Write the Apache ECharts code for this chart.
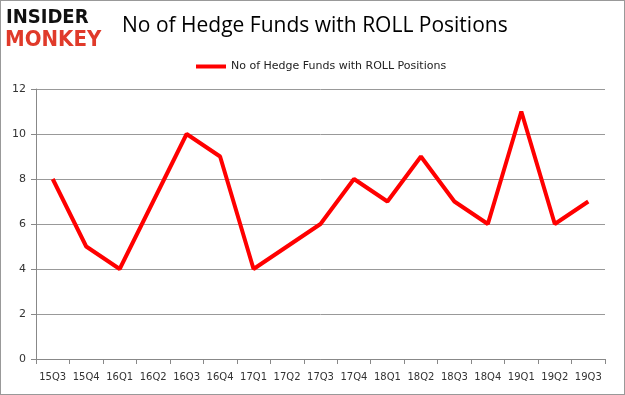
<!DOCTYPE html>
<html><head><meta charset="utf-8">
<script src="https://cdn.jsdelivr.net/npm/echarts@6/dist/echarts.min.js"></script>
<style>html,body{margin:0;padding:0;background:#fff}#c{width:625px;height:395px;box-sizing:border-box;border:1px solid #999}</style>
</head><body><div id="c"></div>
<script>
const categories = ["15Q3","15Q4","16Q1","16Q2","16Q3","16Q4","17Q1","17Q2","17Q3","17Q4","18Q1","18Q2","18Q3","18Q4","19Q1","19Q2","19Q3"];
const values = [8,5,4,7,10,9,4,5,6,8,7,9,7,6,11,6,7];
const seriesName = "No of Hedge Funds with ROLL Positions";
const chart = echarts.init(document.getElementById('c'), null, {renderer:'canvas'});
chart.setOption({
  animation:false,
  title:{text:seriesName, left:116, top:10, textStyle:{fontFamily:'Open Sans', fontSize:21, fontWeight:'500', color:'#000'}},
  graphic:[
    {type:'text', left:5, top:7, style:{text:'INSIDER', font:'900 20px "DejaVu Sans Condensed"', fill:'#111'}},
    {type:'text', left:4, top:28, style:{text:'MONKEY', font:'900 22px "DejaVu Sans Condensed"', fill:'#e03a2a'}}
  ],
  legend:{top:55, left:190, itemWidth:30, itemHeight:4, icon:'rect', itemGap:3,
    textStyle:{fontFamily:'DejaVu Sans', fontSize:11, color:'#222'}, data:[seriesName]},
  grid:{left:35, right:19, top:88, bottom:35},
  xAxis:{type:'category', data:categories, boundaryGap:true,
    axisLine:{lineStyle:{color:'#888'}}, axisTick:{show:true, interval:0, lineStyle:{color:'#888'}},
    axisLabel:{interval:0, fontFamily:'DejaVu Sans', fontSize:10, color:'#333', margin:13}},
  yAxis:{type:'value', min:0, max:12, interval:2,
    axisLine:{show:true, lineStyle:{color:'#888'}}, axisTick:{show:true, lineStyle:{color:'#888'}},
    splitLine:{lineStyle:{color:'#999'}},
    axisLabel:{fontFamily:'DejaVu Sans', fontSize:11, color:'#333', margin:10}},
  series:[{name:seriesName, type:'line', data:values, symbol:'none', lineStyle:{color:'#ff0000', width:4}, itemStyle:{color:'#ff0000'}}]
});
</script></body></html>
